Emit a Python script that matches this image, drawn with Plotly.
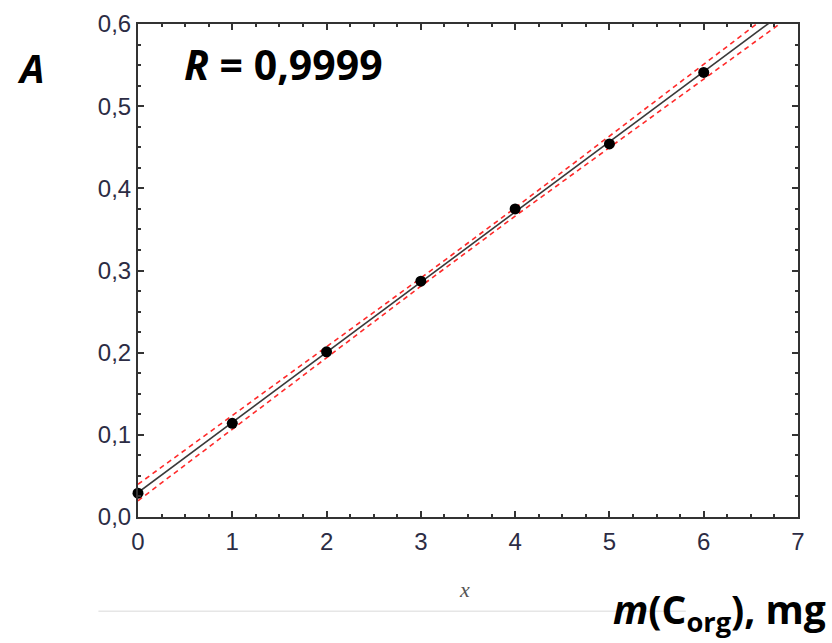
import numpy as np
import plotly.graph_objects as go

# Data
mass_mg = [0, 1, 2, 3, 4, 5, 6]
absorbance = [0.029, 0.114, 0.201, 0.287, 0.375, 0.454, 0.541]

# Confidence band half-width at x = 0..7
band_x = [0, 1, 2, 3, 4, 5, 6, 7]
band_halfwidth = [0.010, 0.008, 0.006, 0.005, 0.005, 0.007, 0.009, 0.011]

x_ticks = [0, 1, 2, 3, 4, 5, 6, 7]
x_ticklabels = ["0", "1", "2", "3", "4", "5", "6", "7"]
y_ticks = [0.0, 0.1, 0.2, 0.3, 0.4, 0.5, 0.6]
y_ticklabels = ["0,0", "0,1", "0,2", "0,3", "0,4", "0,5", "0,6"]

slope, intercept = np.polyfit(mass_mg, absorbance, 1)
fit_y = [intercept + slope * x for x in band_x]
upper = [f + h for f, h in zip(fit_y, band_halfwidth)]
lower = [f - h for f, h in zip(fit_y, band_halfwidth)]

fig = go.Figure()
red = "#ff2a2a"
fig.add_trace(go.Scatter(x=band_x, y=upper, mode="lines",
                         line=dict(color=red, width=1.6, dash="5px,4px"), showlegend=False))
fig.add_trace(go.Scatter(x=band_x, y=lower, mode="lines",
                         line=dict(color=red, width=1.6, dash="5px,4px"), showlegend=False))
fig.add_trace(go.Scatter(x=band_x, y=fit_y, mode="lines",
                         line=dict(color="#3a3a3a", width=1.6), showlegend=False))
fig.add_trace(go.Scatter(x=mass_mg, y=absorbance, mode="markers",
                         marker=dict(color="black", size=11, symbol="circle"),
                         cliponaxis=False, showlegend=False))

tickfont = dict(family="Liberation Sans", size=24, color="#2c2c44")
axis_common = dict(showgrid=False, zeroline=False, showline=True, linecolor="#333333", linewidth=2,
                   mirror="ticks", ticks="inside", ticklen=6, tickwidth=1.5, tickcolor="#333333",
                   tickfont=tickfont, automargin=False)

fig.update_xaxes(range=[0, 7], tickvals=x_ticks, ticktext=x_ticklabels,
                 minor=dict(dtick=0.25, ticks="inside", ticklen=3, tickcolor="#333333", tickwidth=1.5),
                 ticklabelstandoff=2, **axis_common)
fig.update_yaxes(range=[0, 0.6], tickvals=y_ticks, ticktext=y_ticklabels,
                 minor=dict(dtick=0.025, ticks="inside", ticklen=3, tickcolor="#333333", tickwidth=1.5),
                 ticklabelstandoff=0, **axis_common)

bigfont = dict(family="Open Sans", size=39, color="black")
fig.add_annotation(xref="paper", yref="paper", x=-0.162, y=0.912, xanchor="center", yanchor="middle",
                   text="<b><i>A</i></b>", showarrow=False, font=bigfont)
fig.add_annotation(xref="paper", yref="paper", x=0.066, y=0.918, xanchor="left", yanchor="middle",
                   text="<b><i>R</i> = 0,9999</b>", showarrow=False, font=dict(family="Open Sans", size=41, color="black"))
fig.add_annotation(xref="paper", yref="paper", x=1.045, y=-0.19, xanchor="right", yanchor="middle",
                   text="<b><i>m</i>(C<sub>org</sub>), mg</b>", showarrow=False, font=bigfont)
fig.add_annotation(xref="paper", yref="paper", x=0.494, y=-0.148, xanchor="center", yanchor="middle",
                   text="<i>x</i>", showarrow=False,
                   font=dict(family="Liberation Serif", size=22, color="#555555"))
fig.add_shape(type="line", xref="paper", yref="paper", x0=-0.06, x1=0.83, y0=-0.191, y1=-0.191,
              line=dict(color="#e6e6e6", width=1.5), layer="below")

fig.update_layout(width=832, height=643, margin=dict(l=138, r=34, t=24, b=126),
                  plot_bgcolor="white", paper_bgcolor="white")
fig.write_html("out.html", config={"displayModeBar": False},
               post_script="document.body.style.margin='0';document.body.style.padding='0';")
